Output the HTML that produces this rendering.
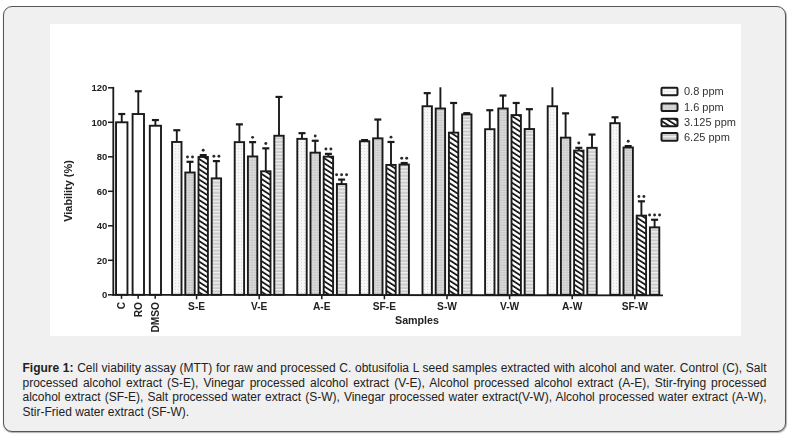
<!DOCTYPE html>
<html><head><meta charset="utf-8"><style>
html,body{margin:0;padding:0;background:#fff;width:792px;height:437px;overflow:hidden;}
.box{position:absolute;left:3px;top:6px;width:782.7px;height:426px;box-sizing:border-box;border:1.5px solid #555;border-radius:9px;background:#f0f0f0;box-shadow:0.3px 1px 1px rgba(0,0,0,0.3);}
.chart{position:absolute;left:50px;top:24px;width:691px;height:312px;}
.chart svg{display:block;filter:blur(0.3px)}
.tk{font-family:"Liberation Sans",sans-serif;font-weight:bold;font-size:9.5px;fill:#222;}
.tk2{font-family:"Liberation Sans",sans-serif;font-weight:bold;font-size:10.2px;fill:#222;}
.tk3{font-family:"Liberation Sans",sans-serif;font-weight:bold;font-size:10.7px;fill:#222;}
.tk4{font-family:"Liberation Sans",sans-serif;font-weight:bold;font-size:10.9px;fill:#222;}
.lg{font-family:"Liberation Sans",sans-serif;font-size:11px;fill:#333;}
.cap{position:absolute;left:22.5px;top:361px;width:744px;font-family:"Liberation Sans",sans-serif;font-size:12px;line-height:14.5px;color:#222;text-align:justify;}
</style></head><body>
<div class="box"></div>
<div class="chart"><svg width="691" height="312" viewBox="50 24 691 312">
<defs>
<pattern id="p1" width="3" height="3" patternUnits="userSpaceOnUse"><rect width="3" height="3" fill="#f6f6f6"/><rect x="1" y="1" width="1" height="1" fill="#dadada"/></pattern>
<pattern id="p2" width="3" height="2.5" patternUnits="userSpaceOnUse"><rect width="3" height="2.5" fill="#c8c8c8"/><rect x="0.5" y="1" width="2" height="1" fill="#eeeeee"/></pattern>
<pattern id="p3" width="4.3" height="6" patternUnits="userSpaceOnUse" patternTransform="rotate(-57)"><rect width="4.3" height="6" fill="#fff"/><rect x="0" y="0" width="1.8" height="6" fill="#1a1a1a"/></pattern>
<pattern id="p4" width="4" height="3.4" patternUnits="userSpaceOnUse"><rect width="4" height="3.4" fill="#cbcbcb"/><rect y="0" width="4" height="1.3" fill="#f0f0f0"/></pattern>
</defs>
<rect x="50" y="24" width="691" height="312" fill="#fff"/>
<line x1="121.75" y1="122.30" x2="121.75" y2="114.02" stroke="#1a1a1a" stroke-width="1.9"/><line x1="118.25" y1="114.02" x2="125.25" y2="114.02" stroke="#1a1a1a" stroke-width="2.2"/><rect x="116.05" y="122.30" width="11.40" height="172.50" fill="#fff" stroke="#1a1a1a" stroke-width="1.9"/><line x1="138.30" y1="114.02" x2="138.30" y2="91.25" stroke="#1a1a1a" stroke-width="1.9"/><line x1="134.80" y1="91.25" x2="141.80" y2="91.25" stroke="#1a1a1a" stroke-width="2.2"/><rect x="132.60" y="114.02" width="11.40" height="180.78" fill="#fff" stroke="#1a1a1a" stroke-width="1.9"/><line x1="155.40" y1="125.75" x2="155.40" y2="120.06" stroke="#1a1a1a" stroke-width="1.9"/><line x1="151.90" y1="120.06" x2="158.90" y2="120.06" stroke="#1a1a1a" stroke-width="2.2"/><rect x="149.80" y="125.75" width="11.20" height="169.05" fill="#fff" stroke="#1a1a1a" stroke-width="1.9"/><line x1="176.80" y1="141.97" x2="176.80" y2="130.23" stroke="#1a1a1a" stroke-width="1.9"/><line x1="173.30" y1="130.23" x2="180.30" y2="130.23" stroke="#1a1a1a" stroke-width="2.2"/><rect x="172.10" y="141.97" width="9.40" height="152.84" fill="url(#p1)" stroke="#1a1a1a" stroke-width="1.9"/><line x1="190.00" y1="172.50" x2="190.00" y2="161.80" stroke="#1a1a1a" stroke-width="1.9"/><line x1="186.50" y1="161.80" x2="193.50" y2="161.80" stroke="#1a1a1a" stroke-width="2.2"/><rect x="185.30" y="172.50" width="9.40" height="122.30" fill="url(#p2)" stroke="#1a1a1a" stroke-width="1.9"/><circle cx="187.50" cy="157.00" r="1.45" fill="#2a2a2a"/><circle cx="192.50" cy="157.00" r="1.45" fill="#2a2a2a"/><line x1="203.20" y1="156.97" x2="203.20" y2="155.08" stroke="#1a1a1a" stroke-width="1.9"/><line x1="199.70" y1="155.08" x2="206.70" y2="155.08" stroke="#1a1a1a" stroke-width="2.2"/><rect x="198.50" y="156.97" width="9.40" height="137.83" fill="url(#p3)" stroke="#1a1a1a" stroke-width="1.9"/><circle cx="203.20" cy="150.28" r="1.45" fill="#2a2a2a"/><line x1="216.40" y1="178.36" x2="216.40" y2="161.11" stroke="#1a1a1a" stroke-width="1.9"/><line x1="212.90" y1="161.11" x2="219.90" y2="161.11" stroke="#1a1a1a" stroke-width="2.2"/><rect x="211.70" y="178.36" width="9.40" height="116.44" fill="url(#p4)" stroke="#1a1a1a" stroke-width="1.9"/><circle cx="213.90" cy="156.31" r="1.45" fill="#2a2a2a"/><circle cx="218.90" cy="156.31" r="1.45" fill="#2a2a2a"/><line x1="239.40" y1="142.14" x2="239.40" y2="124.37" stroke="#1a1a1a" stroke-width="1.9"/><line x1="235.90" y1="124.37" x2="242.90" y2="124.37" stroke="#1a1a1a" stroke-width="2.2"/><rect x="234.70" y="142.14" width="9.40" height="152.66" fill="url(#p1)" stroke="#1a1a1a" stroke-width="1.9"/><line x1="252.60" y1="156.46" x2="252.60" y2="142.14" stroke="#1a1a1a" stroke-width="1.9"/><line x1="249.10" y1="142.14" x2="256.10" y2="142.14" stroke="#1a1a1a" stroke-width="2.2"/><rect x="247.90" y="156.46" width="9.40" height="138.34" fill="url(#p2)" stroke="#1a1a1a" stroke-width="1.9"/><circle cx="252.60" cy="137.34" r="1.45" fill="#2a2a2a"/><line x1="265.80" y1="171.29" x2="265.80" y2="148.35" stroke="#1a1a1a" stroke-width="1.9"/><line x1="262.30" y1="148.35" x2="269.30" y2="148.35" stroke="#1a1a1a" stroke-width="2.2"/><rect x="261.10" y="171.29" width="9.40" height="123.51" fill="url(#p3)" stroke="#1a1a1a" stroke-width="1.9"/><circle cx="265.80" cy="143.55" r="1.45" fill="#2a2a2a"/><line x1="279.00" y1="135.75" x2="279.00" y2="96.94" stroke="#1a1a1a" stroke-width="1.9"/><line x1="275.50" y1="96.94" x2="282.50" y2="96.94" stroke="#1a1a1a" stroke-width="2.2"/><rect x="274.30" y="135.75" width="9.40" height="159.05" fill="url(#p4)" stroke="#1a1a1a" stroke-width="1.9"/><line x1="302.00" y1="138.86" x2="302.00" y2="133.17" stroke="#1a1a1a" stroke-width="1.9"/><line x1="298.50" y1="133.17" x2="305.50" y2="133.17" stroke="#1a1a1a" stroke-width="2.2"/><rect x="297.30" y="138.86" width="9.40" height="155.94" fill="url(#p1)" stroke="#1a1a1a" stroke-width="1.9"/><line x1="315.20" y1="152.66" x2="315.20" y2="140.76" stroke="#1a1a1a" stroke-width="1.9"/><line x1="311.70" y1="140.76" x2="318.70" y2="140.76" stroke="#1a1a1a" stroke-width="2.2"/><rect x="310.50" y="152.66" width="9.40" height="142.14" fill="url(#p2)" stroke="#1a1a1a" stroke-width="1.9"/><circle cx="315.20" cy="135.96" r="1.45" fill="#2a2a2a"/><line x1="328.40" y1="156.63" x2="328.40" y2="153.87" stroke="#1a1a1a" stroke-width="1.9"/><line x1="324.90" y1="153.87" x2="331.90" y2="153.87" stroke="#1a1a1a" stroke-width="2.2"/><rect x="323.70" y="156.63" width="9.40" height="138.17" fill="url(#p3)" stroke="#1a1a1a" stroke-width="1.9"/><circle cx="325.90" cy="149.07" r="1.45" fill="#2a2a2a"/><circle cx="330.90" cy="149.07" r="1.45" fill="#2a2a2a"/><line x1="341.60" y1="184.06" x2="341.60" y2="179.57" stroke="#1a1a1a" stroke-width="1.9"/><line x1="338.10" y1="179.57" x2="345.10" y2="179.57" stroke="#1a1a1a" stroke-width="2.2"/><rect x="336.90" y="184.06" width="9.40" height="110.75" fill="url(#p4)" stroke="#1a1a1a" stroke-width="1.9"/><circle cx="336.60" cy="174.77" r="1.45" fill="#2a2a2a"/><circle cx="341.60" cy="174.77" r="1.45" fill="#2a2a2a"/><circle cx="346.60" cy="174.77" r="1.45" fill="#2a2a2a"/><line x1="364.60" y1="141.28" x2="364.60" y2="140.07" stroke="#1a1a1a" stroke-width="1.9"/><line x1="361.10" y1="140.07" x2="368.10" y2="140.07" stroke="#1a1a1a" stroke-width="2.2"/><rect x="359.90" y="141.28" width="9.40" height="153.53" fill="url(#p1)" stroke="#1a1a1a" stroke-width="1.9"/><line x1="377.80" y1="138.34" x2="377.80" y2="119.54" stroke="#1a1a1a" stroke-width="1.9"/><line x1="374.30" y1="119.54" x2="381.30" y2="119.54" stroke="#1a1a1a" stroke-width="2.2"/><rect x="373.10" y="138.34" width="9.40" height="156.46" fill="url(#p2)" stroke="#1a1a1a" stroke-width="1.9"/><line x1="391.00" y1="164.91" x2="391.00" y2="141.97" stroke="#1a1a1a" stroke-width="1.9"/><line x1="387.50" y1="141.97" x2="394.50" y2="141.97" stroke="#1a1a1a" stroke-width="2.2"/><rect x="386.30" y="164.91" width="9.40" height="129.89" fill="url(#p3)" stroke="#1a1a1a" stroke-width="1.9"/><circle cx="391.00" cy="137.16" r="1.45" fill="#2a2a2a"/><line x1="404.20" y1="164.56" x2="404.20" y2="163.01" stroke="#1a1a1a" stroke-width="1.9"/><line x1="400.70" y1="163.01" x2="407.70" y2="163.01" stroke="#1a1a1a" stroke-width="2.2"/><rect x="399.50" y="164.56" width="9.40" height="130.24" fill="url(#p4)" stroke="#1a1a1a" stroke-width="1.9"/><circle cx="401.70" cy="158.21" r="1.45" fill="#2a2a2a"/><circle cx="406.70" cy="158.21" r="1.45" fill="#2a2a2a"/><line x1="427.20" y1="106.26" x2="427.20" y2="93.15" stroke="#1a1a1a" stroke-width="1.9"/><line x1="423.70" y1="93.15" x2="430.70" y2="93.15" stroke="#1a1a1a" stroke-width="2.2"/><rect x="422.50" y="106.26" width="9.40" height="188.54" fill="url(#p1)" stroke="#1a1a1a" stroke-width="1.9"/><line x1="440.40" y1="108.50" x2="440.40" y2="87.28" stroke="#1a1a1a" stroke-width="1.9"/><rect x="435.70" y="108.50" width="9.40" height="186.30" fill="url(#p2)" stroke="#1a1a1a" stroke-width="1.9"/><line x1="453.60" y1="132.65" x2="453.60" y2="102.98" stroke="#1a1a1a" stroke-width="1.9"/><line x1="450.10" y1="102.98" x2="457.10" y2="102.98" stroke="#1a1a1a" stroke-width="2.2"/><rect x="448.90" y="132.65" width="9.40" height="162.15" fill="url(#p3)" stroke="#1a1a1a" stroke-width="1.9"/><line x1="466.80" y1="114.37" x2="466.80" y2="113.16" stroke="#1a1a1a" stroke-width="1.9"/><line x1="463.30" y1="113.16" x2="470.30" y2="113.16" stroke="#1a1a1a" stroke-width="2.2"/><rect x="462.10" y="114.37" width="9.40" height="180.44" fill="url(#p4)" stroke="#1a1a1a" stroke-width="1.9"/><line x1="489.80" y1="129.20" x2="489.80" y2="110.22" stroke="#1a1a1a" stroke-width="1.9"/><line x1="486.30" y1="110.22" x2="493.30" y2="110.22" stroke="#1a1a1a" stroke-width="2.2"/><rect x="485.10" y="129.20" width="9.40" height="165.60" fill="url(#p1)" stroke="#1a1a1a" stroke-width="1.9"/><line x1="503.00" y1="108.50" x2="503.00" y2="95.56" stroke="#1a1a1a" stroke-width="1.9"/><line x1="499.50" y1="95.56" x2="506.50" y2="95.56" stroke="#1a1a1a" stroke-width="2.2"/><rect x="498.30" y="108.50" width="9.40" height="186.30" fill="url(#p2)" stroke="#1a1a1a" stroke-width="1.9"/><line x1="516.20" y1="115.06" x2="516.20" y2="102.98" stroke="#1a1a1a" stroke-width="1.9"/><line x1="512.70" y1="102.98" x2="519.70" y2="102.98" stroke="#1a1a1a" stroke-width="2.2"/><rect x="511.50" y="115.06" width="9.40" height="179.75" fill="url(#p3)" stroke="#1a1a1a" stroke-width="1.9"/><line x1="529.40" y1="129.03" x2="529.40" y2="109.19" stroke="#1a1a1a" stroke-width="1.9"/><line x1="525.90" y1="109.19" x2="532.90" y2="109.19" stroke="#1a1a1a" stroke-width="2.2"/><rect x="524.70" y="129.03" width="9.40" height="165.77" fill="url(#p4)" stroke="#1a1a1a" stroke-width="1.9"/><line x1="552.40" y1="106.26" x2="552.40" y2="87.28" stroke="#1a1a1a" stroke-width="1.9"/><rect x="547.70" y="106.26" width="9.40" height="188.54" fill="url(#p1)" stroke="#1a1a1a" stroke-width="1.9"/><line x1="565.60" y1="137.65" x2="565.60" y2="113.33" stroke="#1a1a1a" stroke-width="1.9"/><line x1="562.10" y1="113.33" x2="569.10" y2="113.33" stroke="#1a1a1a" stroke-width="2.2"/><rect x="560.90" y="137.65" width="9.40" height="157.15" fill="url(#p2)" stroke="#1a1a1a" stroke-width="1.9"/><line x1="578.80" y1="150.59" x2="578.80" y2="147.83" stroke="#1a1a1a" stroke-width="1.9"/><line x1="575.30" y1="147.83" x2="582.30" y2="147.83" stroke="#1a1a1a" stroke-width="2.2"/><rect x="574.10" y="150.59" width="9.40" height="144.21" fill="url(#p3)" stroke="#1a1a1a" stroke-width="1.9"/><circle cx="578.80" cy="143.03" r="1.45" fill="#2a2a2a"/><line x1="592.00" y1="147.83" x2="592.00" y2="134.55" stroke="#1a1a1a" stroke-width="1.9"/><line x1="588.50" y1="134.55" x2="595.50" y2="134.55" stroke="#1a1a1a" stroke-width="2.2"/><rect x="587.30" y="147.83" width="9.40" height="146.97" fill="url(#p4)" stroke="#1a1a1a" stroke-width="1.9"/><line x1="615.00" y1="123.16" x2="615.00" y2="117.30" stroke="#1a1a1a" stroke-width="1.9"/><line x1="611.50" y1="117.30" x2="618.50" y2="117.30" stroke="#1a1a1a" stroke-width="2.2"/><rect x="610.30" y="123.16" width="9.40" height="171.64" fill="url(#p1)" stroke="#1a1a1a" stroke-width="1.9"/><line x1="628.20" y1="147.48" x2="628.20" y2="146.10" stroke="#1a1a1a" stroke-width="1.9"/><line x1="624.70" y1="146.10" x2="631.70" y2="146.10" stroke="#1a1a1a" stroke-width="2.2"/><rect x="623.50" y="147.48" width="9.40" height="147.32" fill="url(#p2)" stroke="#1a1a1a" stroke-width="1.9"/><circle cx="628.20" cy="141.30" r="1.45" fill="#2a2a2a"/><line x1="641.40" y1="215.62" x2="641.40" y2="201.31" stroke="#1a1a1a" stroke-width="1.9"/><line x1="637.90" y1="201.31" x2="644.90" y2="201.31" stroke="#1a1a1a" stroke-width="2.2"/><rect x="636.70" y="215.62" width="9.40" height="79.18" fill="url(#p3)" stroke="#1a1a1a" stroke-width="1.9"/><circle cx="638.90" cy="196.50" r="1.45" fill="#2a2a2a"/><circle cx="643.90" cy="196.50" r="1.45" fill="#2a2a2a"/><line x1="654.60" y1="227.35" x2="654.60" y2="219.76" stroke="#1a1a1a" stroke-width="1.9"/><line x1="651.10" y1="219.76" x2="658.10" y2="219.76" stroke="#1a1a1a" stroke-width="2.2"/><rect x="649.90" y="227.35" width="9.40" height="67.45" fill="url(#p4)" stroke="#1a1a1a" stroke-width="1.9"/><circle cx="649.60" cy="214.96" r="1.45" fill="#2a2a2a"/><circle cx="654.60" cy="214.96" r="1.45" fill="#2a2a2a"/><circle cx="659.60" cy="214.96" r="1.45" fill="#2a2a2a"/>
<line x1="113.3" y1="86.90" x2="113.3" y2="295.70" stroke="#1a1a1a" stroke-width="1.8"/><line x1="108" y1="294.80" x2="113.3" y2="294.80" stroke="#1a1a1a" stroke-width="1.5"/><text x="107.3" y="298.30" text-anchor="end" class="tk">0</text><line x1="108" y1="260.30" x2="113.3" y2="260.30" stroke="#1a1a1a" stroke-width="1.5"/><text x="107.3" y="263.80" text-anchor="end" class="tk">20</text><line x1="108" y1="225.80" x2="113.3" y2="225.80" stroke="#1a1a1a" stroke-width="1.5"/><text x="107.3" y="229.30" text-anchor="end" class="tk">40</text><line x1="108" y1="191.30" x2="113.3" y2="191.30" stroke="#1a1a1a" stroke-width="1.5"/><text x="107.3" y="194.80" text-anchor="end" class="tk">60</text><line x1="108" y1="156.80" x2="113.3" y2="156.80" stroke="#1a1a1a" stroke-width="1.5"/><text x="107.3" y="160.30" text-anchor="end" class="tk">80</text><line x1="108" y1="122.30" x2="113.3" y2="122.30" stroke="#1a1a1a" stroke-width="1.5"/><text x="107.3" y="125.80" text-anchor="end" class="tk">100</text><line x1="108" y1="87.80" x2="113.3" y2="87.80" stroke="#1a1a1a" stroke-width="1.5"/><text x="107.3" y="91.30" text-anchor="end" class="tk">120</text><line x1="112.4" y1="294.80" x2="663" y2="295.40" stroke="#1a1a1a" stroke-width="1.8"/><line x1="121.5" y1="294.8" x2="121.5" y2="298.8" stroke="#1a1a1a" stroke-width="1.5"/><text transform="translate(125.1,302) rotate(-90)" text-anchor="end" class="tk2">C</text><line x1="138.2" y1="294.8" x2="138.2" y2="298.8" stroke="#1a1a1a" stroke-width="1.5"/><text transform="translate(141.79999999999998,302) rotate(-90)" text-anchor="end" class="tk2">RO</text><line x1="155.2" y1="294.8" x2="155.2" y2="298.8" stroke="#1a1a1a" stroke-width="1.5"/><text transform="translate(158.79999999999998,302) rotate(-90)" text-anchor="end" class="tk2">DMSO</text><line x1="196.6" y1="294.8" x2="196.6" y2="299.3" stroke="#1a1a1a" stroke-width="1.5"/><text x="196.6" y="310" text-anchor="middle" class="tk2">S-E</text><line x1="259.2" y1="294.8" x2="259.2" y2="299.3" stroke="#1a1a1a" stroke-width="1.5"/><text x="259.2" y="310" text-anchor="middle" class="tk2">V-E</text><line x1="321.8" y1="294.8" x2="321.8" y2="299.3" stroke="#1a1a1a" stroke-width="1.5"/><text x="321.8" y="310" text-anchor="middle" class="tk2">A-E</text><line x1="384.4" y1="294.8" x2="384.4" y2="299.3" stroke="#1a1a1a" stroke-width="1.5"/><text x="384.4" y="310" text-anchor="middle" class="tk2">SF-E</text><line x1="447.0" y1="294.8" x2="447.0" y2="299.3" stroke="#1a1a1a" stroke-width="1.5"/><text x="447.0" y="310" text-anchor="middle" class="tk2">S-W</text><line x1="509.6" y1="294.8" x2="509.6" y2="299.3" stroke="#1a1a1a" stroke-width="1.5"/><text x="509.6" y="310" text-anchor="middle" class="tk2">V-W</text><line x1="572.2" y1="294.8" x2="572.2" y2="299.3" stroke="#1a1a1a" stroke-width="1.5"/><text x="572.2" y="310" text-anchor="middle" class="tk2">A-W</text><line x1="634.8" y1="294.8" x2="634.8" y2="299.3" stroke="#1a1a1a" stroke-width="1.5"/><text x="634.8" y="310" text-anchor="middle" class="tk2">SF-W</text><text x="417" y="324" text-anchor="middle" class="tk3">Samples</text><text transform="translate(71.6,191) rotate(-90)" text-anchor="middle" class="tk4">Viability (%)</text>
<rect x="661.5" y="87.70" width="16" height="7.6" rx="1" fill="url(#p1)" stroke="#1a1a1a" stroke-width="2"/><text x="684" y="95.30" class="lg">0.8 ppm</text><rect x="661.5" y="103.40" width="16" height="7.6" rx="1" fill="url(#p2)" stroke="#1a1a1a" stroke-width="2"/><text x="684" y="111.00" class="lg">1.6 ppm</text><rect x="661.5" y="118.70" width="16" height="7.6" rx="1" fill="url(#p3)" stroke="#1a1a1a" stroke-width="2"/><text x="684" y="126.30" class="lg">3.125 ppm</text><rect x="661.5" y="133.10" width="16" height="7.6" rx="1" fill="url(#p4)" stroke="#1a1a1a" stroke-width="2"/><text x="684" y="140.70" class="lg">6.25 ppm</text>
</svg></div>
<div class="cap"><b>Figure 1:</b> Cell viability assay (MTT) for raw and processed C. obtusifolia L seed samples extracted with alcohol and water. Control (C), Salt processed alcohol extract (S-E), Vinegar processed alcohol extract (V-E), Alcohol processed alcohol extract (A-E), Stir-frying processed alcohol extract (SF-E), Salt processed water extract (S-W), Vinegar processed water extract(V-W), Alcohol processed water extract (A-W), Stir-Fried water extract (SF-W).</div>
</body></html>
